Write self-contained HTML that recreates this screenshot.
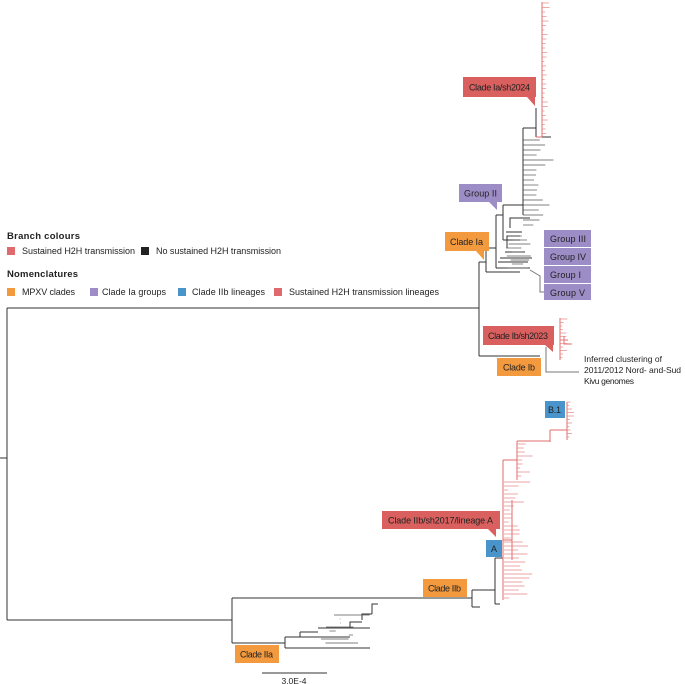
<!DOCTYPE html>
<html><head><meta charset="utf-8"><style>
html,body{margin:0;padding:0;background:#fff}
svg{display:block;font-family:"Liberation Sans",sans-serif}
</style></head><body>
<svg id="s" width="685" height="684" viewBox="0 0 685 684" xmlns="http://www.w3.org/2000/svg">
<g fill="none" stroke="#333" stroke-width="1">
<path d="M0 458H7M7 308V620M7 308H479M7 620H232"/>
<path d="M479 262V356M479 262H486M479 356H540"/>
<path d="M486 248V272M486 248H496M486 272H520"/>
<path d="M496 215V268M496 215H503M503 205V240M503 205H523M523 128V215M523 128H536M536 108V137M536 137H551"/>
<path d="M503 240H520M496 268H530M498 262H528M500 258H532M505 252H525M507 248V236H520M506 232H522M510 228V218H530"/>
<path d="M232 598V643M232 598H472M472 590V607M472 607H480M472 590H495M495 558V604M495 604H500M495 558H503"/>
<path d="M232 643H285M285 637V648M285 648H370M285 637H300M300 632V637H350M300 632H318M318 628H370M350 628V622H362M362 620V614H372M372 614V604H378"/>
</g>
<g fill="none" stroke="#e06b6b" stroke-width="1">
<path d="M542 2V137M542 137H536"/>
<path d="M560 318V360M560 340H568M564 336V344H572"/>
<path d="M503 460V600M503 460H517M517 441V480M517 441H550M550 430V442M550 430H567M567 402V440M503 540H512M512 500V560"/>
</g>
<g id="ticks" stroke-width="0.7"></g>
<g font-size="9" fill="#222">
<text x="7" y="239" font-weight="bold" font-size="9.5" textLength="73">Branch colours</text>
<rect x="7" y="247" width="8" height="8" fill="#e0696d"/><text x="22" y="254" textLength="113">Sustained H2H transmission</text>
<rect x="141" y="247" width="8" height="8" fill="#222"/><text x="156" y="254" textLength="125">No sustained H2H transmission</text>
<text x="7" y="277" font-weight="bold" font-size="9.5" textLength="71">Nomenclatures</text>
<rect x="7" y="288" width="8" height="8" fill="#f39a3f"/><text x="22" y="295" textLength="53">MPXV clades</text>
<rect x="90" y="288" width="8" height="8" fill="#9d8dc6"/><text x="102" y="295" textLength="64">Clade Ia groups</text>
<rect x="178" y="288" width="8" height="8" fill="#4a94cc"/><text x="192" y="295" textLength="73">Clade IIb lineages</text>
<rect x="274" y="288" width="8" height="8" fill="#e0696d"/><text x="289" y="295" textLength="150">Sustained H2H transmission lineages</text>
</g>
<g font-size="9" fill="#222">
<path d="M463 77H536V97H535V106L527 97H463Z" fill="#d9605f"/><text x="469" y="90.5" textLength="61">Clade Ia/sh2024</text>
<path d="M459 184H502V202H497V210L489 202H459Z" fill="#9d8dc6"/><text x="464" y="196.5" textLength="33">Group II</text>
<path d="M445 232H489V251H484V260L476 251H445Z" fill="#f39a3f"/><text x="450" y="245" textLength="33">Clade Ia</text>
<rect x="544" y="230" width="47" height="17" fill="#9d8dc6"/><text x="550" y="242" textLength="36">Group III</text>
<rect x="544" y="248" width="47" height="17" fill="#9d8dc6"/><text x="550" y="260" textLength="36">Group IV</text>
<rect x="544" y="266" width="47" height="17" fill="#9d8dc6"/><text x="550" y="278" textLength="31">Group I</text>
<rect x="544" y="284" width="47" height="16" fill="#9d8dc6"/><text x="550" y="296" textLength="35">Group V</text>
<path d="M530 270L540 276V292H544" fill="none" stroke="#777"/>
<path d="M483 326H554V345H553V352L545 345H483Z" fill="#d9605f"/><text x="488" y="339" textLength="60">Clade Ib/sh2023</text>
<rect x="497" y="358" width="44" height="18" fill="#f39a3f"/><text x="503" y="370.5" textLength="32">Clade Ib</text>
<path d="M546 347V372H579" fill="none" stroke="#777"/>
<text x="584" y="362" font-size="8.5" textLength="78">Inferred clustering of</text>
<text x="584" y="373" font-size="8.5" textLength="97">2011/2012 Nord- and-Sud</text>
<text x="584" y="384" font-size="8.5" textLength="50">Kivu genomes</text>
<rect x="545" y="401" width="20" height="17" fill="#4a94cc"/><text x="548" y="413" textLength="13">B.1</text>
<path d="M382 511H500V529H496V537L488 529H382Z" fill="#d9605f"/><text x="388" y="523.5" textLength="105">Clade IIb/sh2017/lineage A</text>
<rect x="486" y="540" width="16" height="17" fill="#4a94cc"/><text x="491" y="552">A</text>
<rect x="423" y="579" width="44" height="18" fill="#f39a3f"/><text x="428" y="591.5" textLength="33">Clade IIb</text>
<rect x="235" y="645" width="44" height="18" fill="#f39a3f"/><text x="240" y="657.5" textLength="33">Clade IIa</text>
<path d="M262 673H327" stroke="#333"/>
<text x="294" y="684" text-anchor="middle" font-size="8.5">3.0E-4</text>
</g>
<script>
(function(){
var g=document.getElementById('ticks'),s=7;
function r(){s=(s*9301+49297)%233280;return s/233280;}
function L(x1,y1,x2,y2,c){var l=document.createElementNS('http://www.w3.org/2000/svg','line');l.setAttribute('x1',x1);l.setAttribute('y1',y1);l.setAttribute('x2',x2);l.setAttribute('y2',y2);l.setAttribute('stroke',c);g.appendChild(l);}
var R='#e88484',K='#555';
for(var y=3;y<135;y+=4.5){L(542,y,544+r()*(y<25?10:4),y,R);}
for(var y=140;y<230;y+=5){var x=526+r()*4;L(523,y,x+4+r()*(r()<0.3?25:10),y,K);}
for(var y=236;y<272;y+=4){L(506+r()*10,y,516+r()*15,y,K);}
for(var y=319;y<360;y+=3.5){L(560,y,562+r()*6,y,R);}
for(var y=402;y<440;y+=3.5){L(567,y,569+r()*(y<405?20:6),y,R);}
for(var y=444;y<480;y+=4){L(517,y,520+r()*16,y,R);}
for(var y=482;y<600;y+=4){L(504,y,508+r()*(r()<0.3?55:22),y,R);}
for(var y=615;y<646;y+=4){L(320+r()*30,y,335+r()*35,y,K);}
})();
</script>
</svg>
</body></html>
